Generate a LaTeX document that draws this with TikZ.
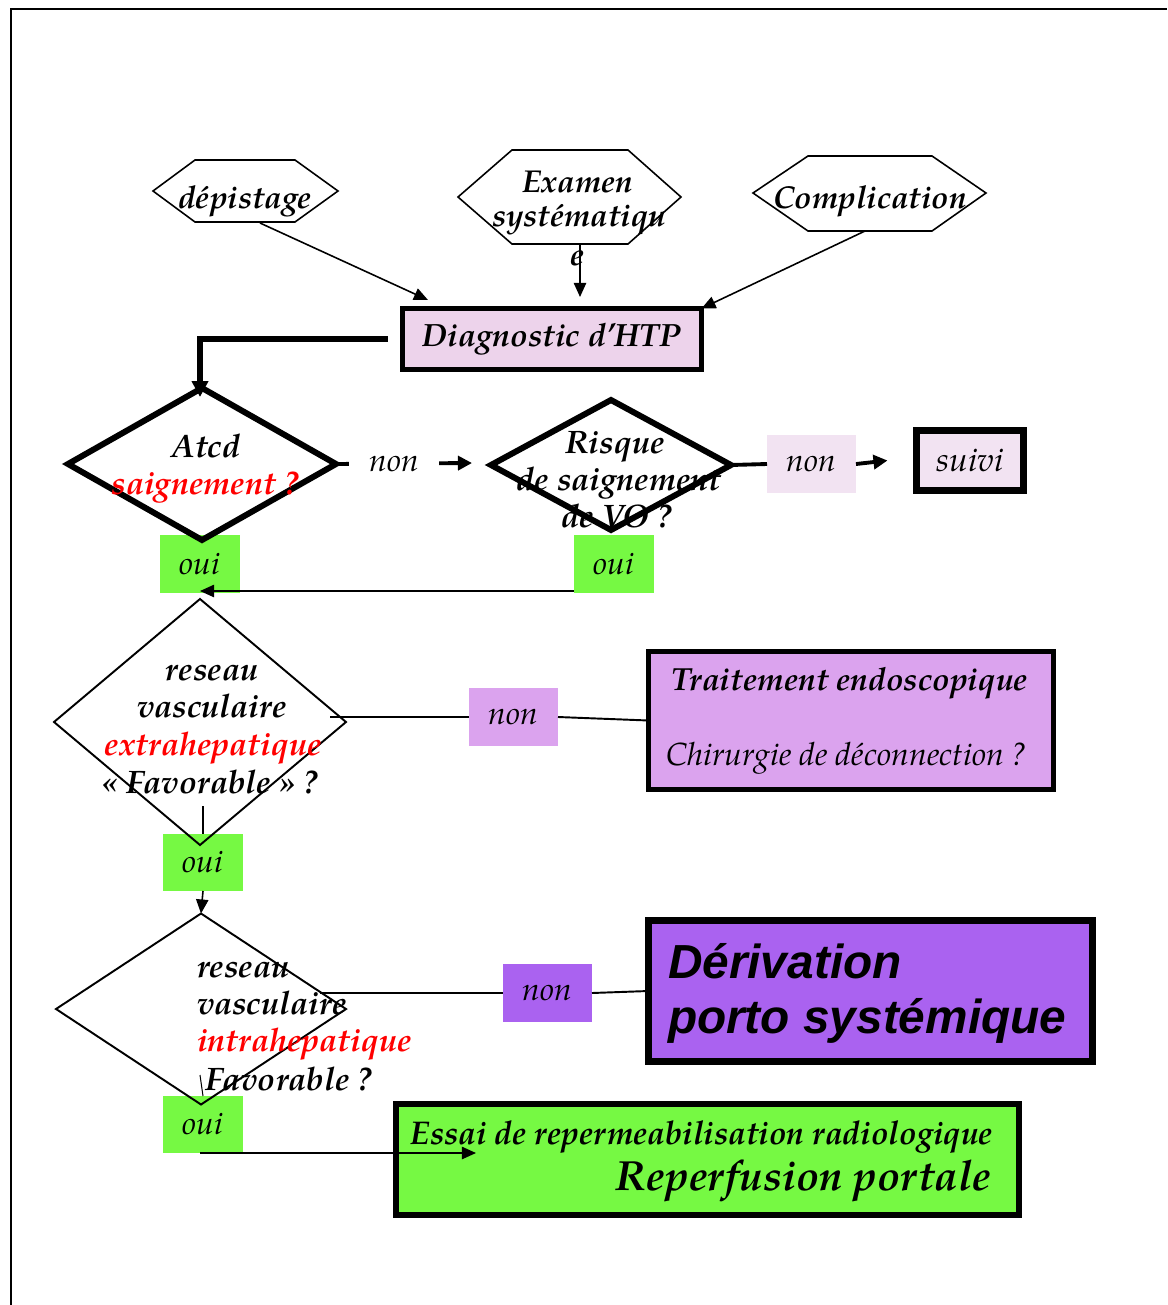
\documentclass[tikz,border=0pt]{standalone}
\usepackage{fontspec}
\usepackage{graphicx}
\setmainfont{TeX Gyre Pagella}
\newfontfamily\sansbi{Liberation Sans}
\usetikzlibrary{arrows.meta,calc,shapes.geometric}
\newcommand\fsz[1]{\fontsize{#1}{#1}\selectfont}
\definecolor{pinkL}{HTML}{EDD3EB}
\definecolor{pinkLL}{HTML}{F2E3F2}
\definecolor{lav}{HTML}{DBA3EE}
\definecolor{purp}{HTML}{AA62F0}
\definecolor{ouig}{HTML}{76F943}
\tikzset{
  every node/.style={inner sep=0pt, outer sep=0pt},
  sz/.style 2 args={minimum width=#1*0.02cm, minimum height=#2*0.02cm},
  it/.style={anchor=base, font=\itshape\fsz{18.5}},
  bi/.style={anchor=base, font=\bfseries\itshape\fsz{18.5}},
  lbl/.style={font=\itshape\fsz{18}},
  ouibox/.style={fill=ouig, sz={80}{58}, lbl},
  hexl/.style={line width=0.9pt, line join=miter},
  arr/.style={line width=0.9pt, -{Triangle[length=8pt,width=7pt]}},
  thk/.style={line width=2.2pt},
  thn/.style={line width=1.1pt},
}
\begin{document}
\begin{tikzpicture}[x=0.02cm,y=-0.02cm]
\useasboundingbox (0,0) rectangle (1167,1305);
\draw[line width=1.3pt] (11,1305) -- (11,9) -- (1167,9);

% hexagons
\draw[hexl] (153,191) -- (195,160) -- (295,160) -- (338,191) -- (295,222) -- (195,222) -- cycle;
\draw[hexl] (458,197) -- (512,150) -- (628,150) -- (681,197) -- (628,244) -- (512,244) -- cycle;
\draw[hexl] (753,193) -- (808,156) -- (932,156) -- (986,193) -- (932,231) -- (808,231) -- cycle;
\node[bi, font=\bfseries\itshape\fsz{18}] (dep) at (245,208) {dépistage};
\node[bi, font=\bfseries\itshape\fsz{18}] (exa1) at (578,192) {Examen};
\node[bi, font=\bfseries\itshape\fsz{18}] (exa2) at (579,226) {systématiqu};
\node[bi, font=\bfseries\itshape\fsz{18}] (exa3) at (578,265) {e};
\node[bi, font=\bfseries\itshape\fsz{18}] (comp) at (870,208) {Complication};

% boxes
\node[draw, line width=2.8pt, fill=pinkL, sz={299}{61}, font=\bfseries\itshape\fsz{18.3}] (diag) at (552,339) {Diagnostic d’HTP};
\node[draw, line width=4pt, fill=pinkLL, sz={107}{60}, font=\itshape\fsz{19}] (suivi) at (970,460.5) {suivi};
\node[fill=pinkLL, sz={89}{58}, lbl] (non2) at (811.5,464) {non};
\node[ouibox] (oui1) at (200,564) {oui};
\node[ouibox] (oui2) at (614,564) {oui};
\node[fill=lav, sz={89}{58}, lbl] (non3) at (513.5,717) {non};
\node[draw, line width=2.8pt, fill=lav, sz={405}{138}] (trait) at (851,720.5) {};
\node[ouibox, sz={80}{57}] (oui3) at (203,862.5) {oui};
\node[fill=purp, sz={89}{58}, lbl] (non4) at (547.5,993) {non};
\node[draw, line width=4pt, fill=purp, sz={444}{141}] (deriv) at (870.5,991) {};
\node[ouibox, sz={80}{57}] (oui4) at (203,1124.5) {oui};
\node[draw, line width=3.4pt, fill=ouig, sz={623}{111}] (essai) at (707.5,1159.5) {};

% diamonds
\node[diamond, draw, line width=3.4pt, sz={268}{152}] (d1) at (202,464) {};
\node[diamond, draw, line width=3.4pt, sz={240}{130}] (d2) at (611,465) {};
\node[diamond, draw, line width=1.1pt, sz={292}{246}] (d3) at (200,722) {};
\node[diamond, draw, line width=1.1pt, sz={290}{191}] (d4) at (201,1009) {};

% diamond texts
\node[bi] (d1a) at (206,457) {Atcd};
\node[bi, text=red] (d1b) at (205,494) {saignement ?};
\node[bi] (d2a) at (615,453) {Risque};
\node[bi] (d2b) at (619,490) {de saignement};
\node[bi] (d2c) at (617,527) {de VO ?};
\node[bi] (d3a) at (212,680) {reseau};
\node[bi] (d3b) at (212,717) {vasculaire};
\node[bi, text=red] (d3c) at (213,755) {extrahepatique};
\node[bi] (d3d) at (210,793) {« Favorable » ?};
\node[bi, anchor=base west] (d4a) at (197,977) {reseau};
\node[bi, anchor=base west] (d4b) at (197,1014) {vasculaire};
\node[bi, anchor=base west, text=red] (d4c) at (197,1051) {intrahepatique};
\node[bi, anchor=base west] (d4d) at (205,1090) {Favorable ?};

% box texts
\node[bi, font=\bfseries\itshape\fsz{18.2}] (tr1) at (850,690) {Traitement endoscopique};
\node[it, font=\itshape\fsz{18.2}] (tr2) at (847,765) {Chirurgie de déconnection ?};
\node[anchor=base west, font=\sansbi\bfseries\itshape\fsz{27.2}] (dv1) at (668,978) {Dérivation};
\node[anchor=base west, font=\sansbi\bfseries\itshape\fsz{27.2}] (dv2) at (668,1033) {porto systémique};
\node[anchor=base east, font=\bfseries\itshape\fsz{18.7}] (es1) at (993,1144) {\scalebox{0.97}[1]{Essai de repermeabilisation radiologique}};
\node[anchor=base east, font=\bfseries\itshape\fsz{24}] (es2) at (991,1190) {Reperfusion portale};

% connectors
\coordinate (depB) at (260,223);
\coordinate (diagIn1) at (428,300);
\draw[arr] (depB) -- (diagIn1);
\coordinate (exB) at (580,245);
\coordinate (diagIn2) at (580,297);
\draw[arr] (exB) -- (diagIn2);
\coordinate (comB) at (865,231);
\draw[arr] (comB) -- (diag.north east);
\coordinate (d1in) at (200,397);
\draw[line width=3.2pt, -{Triangle[length=9pt,width=9pt]}] ($(diag.west)+(-15,0)$) -| (d1in);
\coordinate (d2in) at (472,463);
\draw[thk, -{Triangle[length=8pt,width=8pt]}] (d1.east) -- node[pos=.43, fill=white, sz={90}{40}, lbl] (non1) {non} (d2in);
\draw[thk] (d2.east) -- (non2.west);
\coordinate (suiviIn) at ($(suivi.west)+(-29,0)$);
\draw[thk, -{Triangle[length=8pt,width=8pt]}] (non2.east) -- (suiviIn);
\coordinate (ouiJ) at (200,591);
\draw[arr] ($(oui2.south west)+(0,-2)$) -- (ouiJ);
\coordinate (d3r) at (330,717);
\draw[thn] (d3r) -- (non3.west);
\draw[thn] (non3.east) -- (trait.west);
\coordinate (d3s) at (203,806);
\draw[thn] (d3s) -- (oui3.north);
\draw[arr] (oui3.south) -- (d4.north);
\coordinate (d4r) at (320,993);
\draw[thn] (d4r) -- (non4.west);
\draw[thn] (non4.east) -- (deriv.west);
\coordinate (d4s) at (200,1075);
\draw[line width=0.6pt] (d4s) -- (oui4.north);
\coordinate (ouiS) at (200,1153);
\coordinate (essIn) at (476,1153);
\draw[arr] (ouiS) -- (essIn);
\end{tikzpicture}
\end{document}
